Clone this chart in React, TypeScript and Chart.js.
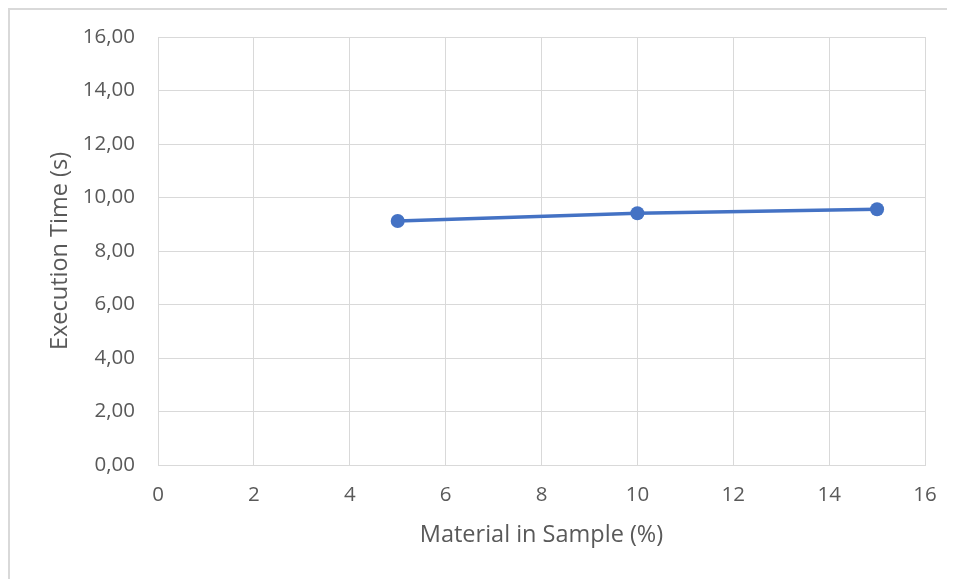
import React, { useEffect, useRef } from "react";
import { Chart, registerables } from "chart.js";

Chart.register(...registerables);

const materialPct = [5, 10, 15];
const execTime = [9.12, 9.41, 9.56];
const xTicks = [0, 2, 4, 6, 8, 10, 12, 14, 16];
const yTicks = [0, 2, 4, 6, 8, 10, 12, 14, 16];
const xTitle = "Material in Sample (%)";
const yTitle = "Execution Time (s)";

const FONT = "'Open Sans', sans-serif";
const TEXT = "#595959";
const GRID = "#d9d9d9";

export default function App() {
  const ref = useRef<HTMLCanvasElement | null>(null);
  useEffect(() => {
    if (!ref.current) return;
    const chart = new Chart(ref.current, {
      type: "scatter",
      data: {
        datasets: [
          {
            data: materialPct.map((x, i) => ({ x, y: execTime[i] })),
            showLine: true,
            borderColor: "#4472C4",
            backgroundColor: "#4472C4",
            borderWidth: 3.5,
            pointRadius: 7,
            pointBorderWidth: 0,
          },
        ],
      },
      options: {
        animation: false,
        responsive: false,
        maintainAspectRatio: false,
        layout: { padding: { left: 0, top: 27, right: 30, bottom: 0 } },
        plugins: { legend: { display: false }, tooltip: { enabled: false } },
        scales: {
          x: {
            type: "linear",
            min: xTicks[0],
            max: xTicks[xTicks.length - 1],
            afterBuildTicks: (s: any) => {
              s.ticks = xTicks.map((v) => ({ value: v }));
            },
            afterFit: (s: any) => {
              s.height = 114;
              s.paddingLeft = 0;
              s.paddingRight = 0;
            },
            grid: { color: GRID, lineWidth: 1, drawTicks: false },
            border: { color: GRID, width: 1 },
            ticks: { color: TEXT, font: { family: FONT, size: 20.5 }, padding: 18, maxRotation: 0 },
            title: {
              display: true,
              text: xTitle,
              color: TEXT,
              font: { family: FONT, size: 23.5 },
              padding: { top: 0, bottom: 30 },
            },
          },
          y: {
            type: "linear",
            min: yTicks[0],
            max: yTicks[yTicks.length - 1],
            afterBuildTicks: (s: any) => {
              s.ticks = yTicks.map((v) => ({ value: v }));
            },
            afterFit: (s: any) => {
              s.width = 148;
              s.paddingTop = 0;
              s.paddingBottom = 0;
            },
            grid: { color: GRID, lineWidth: 1, drawTicks: false },
            border: { color: GRID, width: 1 },
            ticks: {
              color: TEXT,
              font: { family: FONT, size: 20.5 },
              padding: 23,
              callback: (v: any) => Number(v).toFixed(2).replace(".", ","),
            },
            title: {
              display: true,
              text: yTitle,
              color: TEXT,
              font: { family: FONT, size: 23.5 },
              padding: { top: 36, bottom: 0 },
            },
          },
        },
      },
    });
    return () => chart.destroy();
  }, []);
  return (
    <div
      style={{
        width: 947,
        height: 571,
        borderLeft: "2px solid #d9d9d9",
        borderTop: "2px solid #d9d9d9",
        boxSizing: "border-box",
        overflow: "hidden",
        background: "#fff",
      }}
    >
      <canvas ref={ref} width={945} height={569} style={{ display: "block" }} />
    </div>
  );
}
